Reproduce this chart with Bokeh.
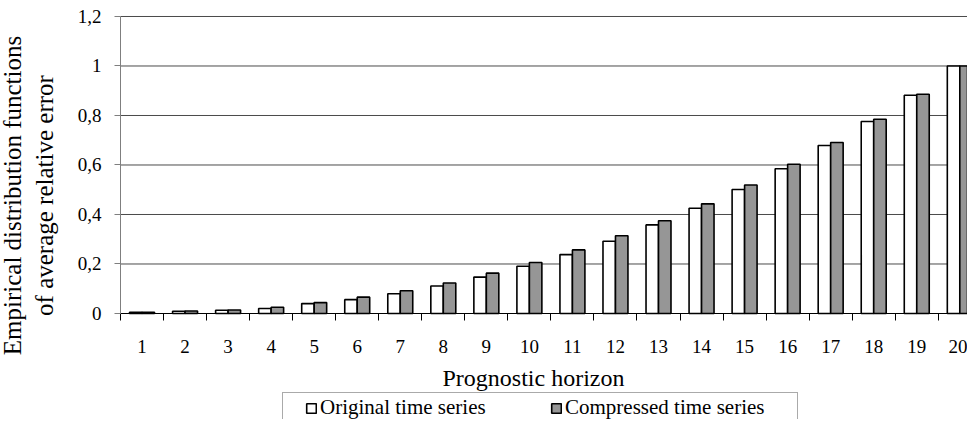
import math
from bokeh.plotting import figure
from bokeh.models import (ColumnDataSource, Range1d, FixedTicker, Legend, LegendItem,
                          Label, CustomJSTickFormatter)
from bokeh.transform import dodge
from bokeh.embed import file_html
from bokeh.resources import INLINE

# ---- data ----
horizons = list(range(1, 21))
original = [0.005, 0.009, 0.013, 0.020, 0.040, 0.056, 0.080, 0.111, 0.147, 0.191,
            0.238, 0.292, 0.358, 0.425, 0.501, 0.585, 0.679, 0.776, 0.882, 1.000]
compressed = [0.005, 0.010, 0.014, 0.025, 0.044, 0.066, 0.092, 0.123, 0.163, 0.206,
              0.257, 0.314, 0.375, 0.443, 0.519, 0.603, 0.691, 0.785, 0.886, 1.000]
y_ticks = [0, 0.2, 0.4, 0.6, 0.8, 1.0, 1.2]
y_tick_labels = ["0", "0,2", "0,4", "0,6", "0,8", "1", "1,2"]
series_names = ["Original time series", "Compressed time series"]
x_title = "Prognostic horizon"
y_title = "Empirical distribution functions\nof average relative error"

FONT = "Liberation Serif"

src = ColumnDataSource(dict(x=horizons, orig=original, comp=compressed))
x_lo, x_hi = horizons[0] - 0.5, horizons[-1] + 0.5
grid_y = y_ticks[1:]
grid_src = ColumnDataSource(dict(y=grid_y, x0=[x_lo] * len(grid_y), x1=[x_hi] * len(grid_y)))

# the frame covers the whole canvas; axes are pinned inside it
p = figure(width=967, height=419, output_backend="svg", toolbar_location=None,
           x_range=Range1d(-2.288, 20.179), y_range=Range1d(-0.4283, 1.2646),
           min_border=0, min_border_left=0, min_border_right=0, min_border_top=0,
           min_border_bottom=0)
p.outline_line_color = None
p.background_fill_color = "white"
p.border_fill_color = "white"
p.xgrid.visible = False
p.ygrid.visible = False

# horizontal grid lines
p.segment(x0="x0", x1="x1", y0="y", y1="y", source=grid_src,
          line_color="#4a4a4a", line_width=1)

bw = 0.29
r1 = p.vbar(x=dodge("x", -bw / 2, range=p.x_range), top="orig", width=bw, source=src,
            fill_color="white", line_color="black", line_width=1.6)
r2 = p.vbar(x=dodge("x", bw / 2, range=p.x_range), top="comp", width=bw, source=src,
            fill_color="#969696", line_color="black", line_width=1.6)

# x axis, pinned at y = 0
boundaries = [h - 0.5 for h in horizons] + [horizons[-1] + 0.5]
p.xaxis.fixed_location = 0
p.xaxis.bounds = (x_lo, x_hi)
p.xaxis.ticker = FixedTicker(ticks=horizons, minor_ticks=boundaries)
p.xaxis.major_tick_out = 0
p.xaxis.major_tick_in = 0
p.xaxis.minor_tick_out = 7
p.xaxis.minor_tick_in = 0
p.xaxis.minor_tick_line_color = "black"
p.xaxis.axis_line_color = "black"
p.xaxis.major_label_text_font = FONT
p.xaxis.major_label_text_font_size = "19px"
p.xaxis.major_label_text_color = "black"
p.xaxis.major_label_standoff = 20

# y axis, pinned at the left category edge
label_map = dict(zip([str(t) for t in y_ticks], y_tick_labels))
p.yaxis.fixed_location = x_lo
p.yaxis.bounds = (y_ticks[0], y_ticks[-1])
p.yaxis.ticker = FixedTicker(ticks=y_ticks, minor_ticks=[])
p.yaxis.formatter = CustomJSTickFormatter(args=dict(m=label_map), code="""
    const k = Object.keys(m).find(key => Math.abs(parseFloat(key) - tick) < 1e-9);
    return k === undefined ? String(tick) : m[k];
""")
p.yaxis.major_tick_out = 6
p.yaxis.major_tick_in = 0
p.yaxis.minor_tick_out = 0
p.yaxis.minor_tick_in = 0
p.yaxis.axis_line_color = "#7f7f7f"
p.yaxis.major_tick_line_color = "#7f7f7f"
p.yaxis.major_label_text_font = FONT
p.yaxis.major_label_text_font_size = "19px"
p.yaxis.major_label_text_color = "black"
p.yaxis.major_label_standoff = 13

# axis titles
p.add_layout(Label(x=28, y=224, x_units="screen", y_units="screen", text=y_title,
                   angle=math.pi / 2, text_align="center", text_baseline="middle",
                   text_font=FONT, text_font_size="25px", text_color="black",
                   text_line_height=1.2))
p.add_layout(Label(x=533, y=42, x_units="screen", y_units="screen", text=x_title,
                   text_align="center", text_baseline="alphabetic",
                   text_font=FONT, text_font_size="24px", text_color="black"))

legend = Legend(items=[LegendItem(label=series_names[0], renderers=[r1]),
                       LegendItem(label=series_names[1], renderers=[r2])],
                orientation="horizontal", location=(282, -4),
                title=" ", title_location="left", title_text_font_size="1px",
                title_standoff=19,
                padding=2, spacing=0, glyph_width=12, glyph_height=12,
                label_standoff=3, label_width=230,
                label_text_font=FONT, label_text_font_size="21px",
                label_text_color="black", border_line_color="#555555",
                border_line_width=1, background_fill_alpha=1, margin=0)
p.add_layout(legend, "center")

open("out.html", "w").write(file_html(p, INLINE))
